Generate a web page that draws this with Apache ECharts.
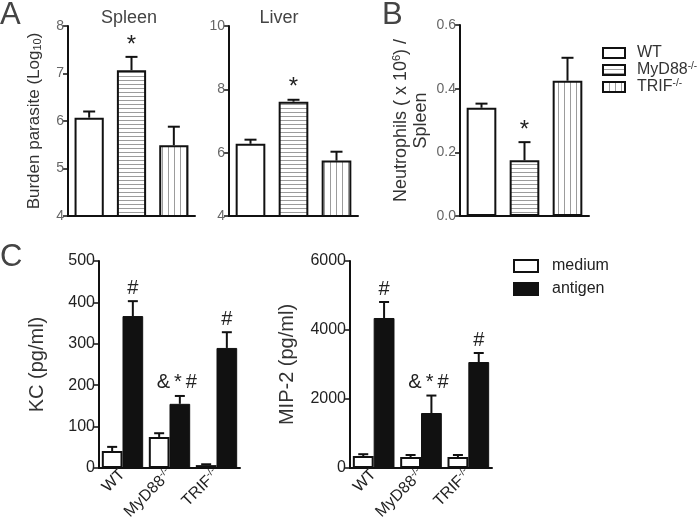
<!DOCTYPE html>
<html><head><meta charset="utf-8">
<script src="https://cdn.jsdelivr.net/npm/echarts@6/dist/echarts.min.js"></script>
<style>html,body{margin:0;padding:0;background:#fff}#c{width:700px;height:525px}</style>
</head><body><div id="c"></div>
<script>
// ---------- data ----------
const groups = ['WT', 'MyD88-/-', 'TRIF-/-'];

const spleenTicks = [4, 5, 6, 7, 8];
const spleenMean = [6.07, 7.07, 5.49];
const spleenErr = [6.20, 7.35, 5.88];
const spleenSig = ['', '*', ''];

const liverTicks = [4, 6, 8, 10];
const liverMean = [6.28, 7.61, 5.75];
const liverErr = [6.41, 7.67, 6.03];
const liverSig = ['', '*', ''];

const neutTicks = [0, 0.2, 0.4, 0.6];
const neutMean = [0.34, 0.175, 0.425];
const neutErr = [0.353, 0.232, 0.497];
const neutSig = ['', '*', ''];

const conditions = ['medium', 'antigen'];

const kcTicks = [0, 100, 200, 300, 400, 500];
const kcMedium = [41, 75, 7];
const kcMediumErr = [51, 84, 9];
const kcAntigen = [367, 155, 290];
const kcAntigenErr = [403, 174, 328];
const kcSig = ['#', '&*#', '#'];

const mipTicks = [0, 2000, 4000, 6000];
const mipMedium = [348, 319, 319];
const mipMediumErr = [400, 377, 377];
const mipAntigen = [4348, 1594, 3072];
const mipAntigenErr = [4812, 2100, 3333];
const mipSig = ['#', '&*#', '#'];

// ---------- styling ----------
const FONT = '"Liberation Sans", Arial, Helvetica, sans-serif';
function stripes(horizontal) {
  const c = document.createElement('canvas');
  c.width = horizontal ? 4 : 6; c.height = 4;
  const g = c.getContext('2d');
  g.fillStyle = '#fff'; g.fillRect(0, 0, c.width, c.height);
  g.fillStyle = '#9c9c9c';
  if (horizontal) g.fillRect(0, 0, c.width, 1); else g.fillRect(0, 0, 1, c.height);
  return c;
}
const groupFill = ['#ffffff', { image: stripes(true), repeat: 'repeat' }, { image: stripes(false), repeat: 'repeat' }];
function supFmt(name) {
  const k = name.indexOf('-/-');
  return k < 0 ? '{b|' + name + '}' : '{b|' + name.slice(0, k) + '}{sup|-/-}';
}
function richFor(size, supSize, color) {
  return {
    b: { fontSize: size, color: color, fontFamily: FONT, lineHeight: size + 2 },
    sup: { fontSize: supSize, color: color, fontFamily: FONT, verticalAlign: 'top', lineHeight: supSize, padding: [0, 0, size - supSize, 0] }
  };
}

function yAxis(gi, ticks, name, nameGap, opts) {
  const step = ticks[1] - ticks[0];
  return {
    type: 'value', gridIndex: gi, min: ticks[0], max: ticks[ticks.length - 1], interval: step,
    axisLine: { show: true, lineStyle: { color: '#111', width: 2 } },
    axisTick: { show: true, length: 5, lineStyle: { color: '#111', width: 1.5 } },
    splitLine: { show: false },
    axisLabel: { color: opts.labelColor, fontSize: opts.labelSize, margin: 4, fontFamily: FONT,
      formatter: opts.fmt || (v => String(v)) },
    name: name, nameLocation: 'middle', nameRotate: 90, nameGap: nameGap,
    nameTextStyle: { color: '#333', fontSize: opts.nameSize, fontFamily: FONT, lineHeight: opts.nameLH || opts.nameSize,
      rich: opts.rich || {} }
  };
}
function xAxis(gi, labels) {
  return {
    type: 'category', gridIndex: gi, data: groups,
    axisLine: { show: true, onZero: false, lineStyle: { color: '#111', width: 2 } },
    axisTick: { show: false },
    axisLabel: labels ? { show: true, rotate: 45, margin: 4, formatter: supFmt, rich: richFor(16, 10, '#222') } : { show: false }
  };
}

function errorSeries(gi, means, errs, sigs, slot, nSlots, catGap, sigSize, capW) {
  return {
    type: 'custom', xAxisIndex: gi, yAxisIndex: gi, z: 5, silent: true,
    data: means.map((m, i) => [i, m, errs[i]]),
    encode: { x: 0, y: [1, 2] },
    renderItem: function (params, api) {
      const i = params.dataIndex;
      const band = api.size([1, 0])[0];
      const barW = band * (1 - catGap) / nSlots;
      const dx = nSlots === 1 ? 0 : (slot - (nSlots - 1) / 2) * barW;
      const p0 = api.coord([i, means[i]]);
      const p1 = api.coord([i, errs[i]]);
      const x = p0[0] + dx;
      const children = [
        { type: 'line', shape: { x1: x, y1: p0[1], x2: x, y2: p1[1] }, style: { stroke: '#111', lineWidth: 2 } },
        { type: 'line', shape: { x1: x - capW / 2, y1: p1[1], x2: x + capW / 2, y2: p1[1] }, style: { stroke: '#111', lineWidth: 2 } }
      ];
      const s = sigs ? sigs[i] : '';
      if (s) {
        const multi = s.length > 1;
        children.push({ type: 'text', style: {
          text: multi ? s.split('').map(ch => '{c|' + ch + '}').join('') : s,
          rich: { c: { fontSize: sigSize, padding: [0, 2], fill: '#222', fontFamily: FONT } },
          x: x + (multi ? -3 : 0), y: p1[1] - (s === '*' ? 0 : 3), align: 'center', verticalAlign: 'bottom',
          fontSize: sigSize, fill: '#222', fontFamily: FONT } });
      }
      return { type: 'group', children: children };
    }
  };
}

function groupBars(gi, means) {
  return groups.map((g, k) => ({
    type: 'bar', name: g, xAxisIndex: gi, yAxisIndex: gi, clip: true,
    data: means.map((v, j) => j === k ? v : '-'),
    barGap: '-100%', barCategoryGap: '31%',
    itemStyle: { color: groupFill[k], borderColor: '#111', borderWidth: 2 }
  }));
}
function condBars(gi, med, ant) {
  return [
    { type: 'bar', name: 'medium', xAxisIndex: gi, yAxisIndex: gi, data: med, barGap: '0%', barCategoryGap: '12%',
      itemStyle: { color: '#fff', borderColor: '#111', borderWidth: 2 } },
    { type: 'bar', name: 'antigen', xAxisIndex: gi, yAxisIndex: gi, data: ant, barGap: '0%', barCategoryGap: '12%',
      itemStyle: { color: '#111', borderColor: '#111', borderWidth: 1 } }
  ];
}

const chart = echarts.init(document.getElementById('c'), null, { renderer: 'canvas' });
const aOpts = { labelColor: '#666', labelSize: 14, nameSize: 17,
  rich: { sub: { fontSize: 11, verticalAlign: 'bottom', lineHeight: 11, padding: [6, 0, 0, 0] } } };
const option = {
  animation: false,
  backgroundColor: '#fff',
  textStyle: { fontFamily: FONT },
  grid: [
    { left: 68, top: 26, width: 127, height: 190 },
    { left: 229, top: 26, width: 129, height: 190 },
    { left: 460, top: 25, width: 129, height: 191 },
    { left: 99, top: 261, width: 141, height: 207 },
    { left: 350, top: 261, width: 142, height: 207 }
  ],
  xAxis: [xAxis(0, false), xAxis(1, false), xAxis(2, false), xAxis(3, true), xAxis(4, true)],
  yAxis: [
    yAxis(0, spleenTicks, 'Burden parasite (Log{sub|10})', 25, aOpts),
    yAxis(1, liverTicks, '', 20, aOpts),
    yAxis(2, neutTicks, 'Neutrophils ( x 10{sup|6}) /\nSpleen', 29,
      { labelColor: '#666', labelSize: 14, nameSize: 18, nameLH: 20, fmt: v => v.toFixed(1),
        rich: { sup: { fontSize: 11, verticalAlign: 'top', lineHeight: 11, padding: [0, 0, 8, 0] } } }),
    yAxis(3, kcTicks, 'KC (pg/ml)', 52, { labelColor: '#222', labelSize: 16, nameSize: 20 }),
    yAxis(4, mipTicks, 'MIP-2 (pg/ml)', 53, { labelColor: '#222', labelSize: 16, nameSize: 20 })
  ],
  legend: [
    { data: groups, orient: 'vertical', left: 602, top: 45, padding: 0, itemWidth: 22, itemHeight: 10, itemGap: 0,
      icon: 'rect', selectedMode: false, formatter: supFmt,
      itemStyle: { borderColor: '#111', borderWidth: 2 },
      textStyle: { padding: [0, 0, 0, 7], rich: richFor(16, 10, '#333') } },
    { data: conditions, orient: 'vertical', left: 513, top: 258, padding: 0, itemWidth: 24, itemHeight: 12, itemGap: 7,
      icon: 'rect', selectedMode: false,
      itemStyle: { borderColor: '#111', borderWidth: 2 },
      textStyle: { fontSize: 16, color: '#222', fontFamily: FONT, padding: [0, 0, 0, 9] } }
  ],
  graphic: [
    { type: 'text', x: 0, y: 0, style: { text: 'A', fontSize: 31, fill: '#444', fontFamily: FONT } },
    { type: 'text', x: 382, y: 0, style: { text: 'B', fontSize: 31, fill: '#444', fontFamily: FONT } },
    { type: 'text', x: 0, y: 242, style: { text: 'C', fontSize: 31, fill: '#444', fontFamily: FONT } },
    { type: 'text', x: 129, y: 9, style: { text: 'Spleen', fontSize: 18, fill: '#444', fontFamily: FONT, align: 'center' } },
    { type: 'text', x: 279, y: 9, style: { text: 'Liver', fontSize: 18, fill: '#444', fontFamily: FONT, align: 'center' } }
  ],
  series: [].concat(
    groupBars(0, spleenMean), [errorSeries(0, spleenMean, spleenErr, spleenSig, 0, 1, 0.31, 24, 12)],
    groupBars(1, liverMean), [errorSeries(1, liverMean, liverErr, liverSig, 0, 1, 0.31, 24, 12)],
    groupBars(2, neutMean), [errorSeries(2, neutMean, neutErr, neutSig, 0, 1, 0.31, 24, 12)],
    condBars(3, kcMedium, kcAntigen),
    [errorSeries(3, kcMedium, kcMediumErr, null, 0, 2, 0.12, 20, 10),
     errorSeries(3, kcAntigen, kcAntigenErr, kcSig, 1, 2, 0.12, 20, 10)],
    condBars(4, mipMedium, mipAntigen),
    [errorSeries(4, mipMedium, mipMediumErr, null, 0, 2, 0.12, 20, 10),
     errorSeries(4, mipAntigen, mipAntigenErr, mipSig, 1, 2, 0.12, 20, 10)]
  )
};
chart.setOption(option);
</script></body></html>
